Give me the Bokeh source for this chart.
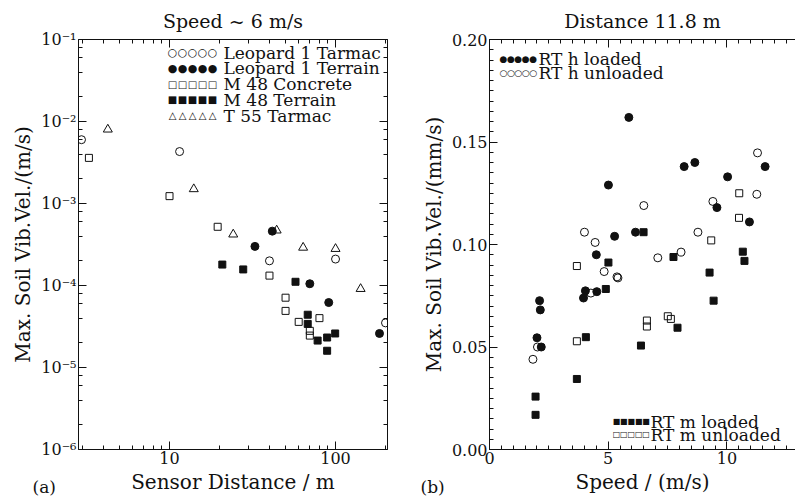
from bokeh.plotting import figure
from bokeh.models import (LogAxis, LinearAxis, LogTicker, FixedTicker, SingleIntervalTicker,
                          CustomJSTickFormatter, NumeralTickFormatter, Label, Range1d, Title)
from bokeh.layouts import row
from bokeh.embed import file_html
from bokeh.resources import INLINE

FONT = "DejaVu Serif"
MFONT = "DejaVu Sans"
INK = "#111111"

# ---------------- panel (a): Speed ~ 6 m/s ----------------
leo_tarmac_x = [2.95, 11.5, 40, 100, 200]
leo_tarmac_y = [6.0e-3, 4.3e-3, 2.0e-4, 2.1e-4, 3.5e-5]
leo_terrain_x = [32.7, 41.6, 70, 91, 184]
leo_terrain_y = [3.0e-4, 4.6e-4, 1.05e-4, 6.2e-5, 2.6e-5]
m48_concrete_x = [3.27, 10.0, 19.5, 40, 50, 50, 60, 70, 70, 80]
m48_concrete_y = [3.6e-3, 1.23e-3, 5.2e-4, 1.32e-4, 7.1e-5, 4.9e-5, 3.6e-5, 2.8e-5, 2.45e-5, 4.0e-5]
m48_terrain_x = [20.8, 27.8, 57.4, 68, 68, 78, 89, 89, 99.5]
m48_terrain_y = [1.8e-4, 1.57e-4, 1.11e-4, 4.4e-5, 3.4e-5, 2.13e-5, 2.32e-5, 1.6e-5, 2.6e-5]
t55_tarmac_x = [4.25, 14.0, 24.2, 44.2, 63.8, 100, 141.6]
t55_tarmac_y = [8.0e-3, 1.5e-3, 4.2e-4, 4.7e-4, 2.9e-4, 2.8e-4, 9.1e-5]

x_major_a = [10, 100]
x_minor_a = [3, 4, 5, 6, 7, 8, 9, 20, 30, 40, 50, 60, 70, 80, 90, 200]

legend_a = [("○", "11px", "Leopard 1 Tarmac"),
            ("●", "11px", "Leopard 1 Terrain"),
            ("□", "10px", "M 48 Concrete"),
            ("■", "10px", "M 48 Terrain"),
            ("△", "10px", "T 55 Tarmac")]

# ---------------- panel (b): Distance 11.8 m ----------------
rth_loaded_x = [5.87, 5.01, 5.27, 6.15, 8.20, 8.65, 10.03, 9.58, 11.61, 10.95,
                4.50, 4.04, 3.96, 4.52, 2.11, 2.14, 2.00, 2.18]
rth_loaded_y = [0.162, 0.129, 0.104, 0.106, 0.138, 0.140, 0.133, 0.118, 0.138, 0.111,
                0.095, 0.0774, 0.0739, 0.0770, 0.0726, 0.0681, 0.0545, 0.0500]
rth_unloaded_x = [11.29, 11.26, 9.41, 6.50, 4.00, 4.45, 8.78, 8.07, 7.09, 4.83,
                  5.37, 5.41, 4.27, 1.83, 2.02]
rth_unloaded_y = [0.1447, 0.1245, 0.121, 0.119, 0.106, 0.101, 0.106, 0.0963, 0.0935, 0.0868,
                  0.0842, 0.0837, 0.0763, 0.044, 0.050]
rtm_loaded_x = [6.49, 10.67, 5.01, 7.75, 10.74, 9.27, 9.44, 4.90, 4.06, 7.92,
                6.38, 3.68, 1.94, 1.94]
rtm_loaded_y = [0.106, 0.0965, 0.0912, 0.0939, 0.092, 0.0863, 0.0726, 0.0783, 0.0548, 0.0594,
                0.0507, 0.0344, 0.0258, 0.0169]
rtm_unloaded_x = [3.68, 3.68, 9.34, 10.52, 10.51, 6.63, 6.63, 7.51, 7.64]
rtm_unloaded_y = [0.0895, 0.0528, 0.102, 0.125, 0.113, 0.0629, 0.0600, 0.065, 0.0637]

legend_b_top = [("●", "9px", "RT h loaded"), ("○", "9px", "RT h unloaded")]
legend_b_bot = [("■", "8px", "RT m loaded"), ("□", "8px", "RT m unloaded")]

SUP = CustomJSTickFormatter(code="""
const e = Math.round(Math.log10(tick));
const m = {'-':'\u207b','0':'\u2070','1':'\u00b9','2':'\u00b2','3':'\u00b3','4':'\u2074',
           '5':'\u2075','6':'\u2076','7':'\u2077','8':'\u2078','9':'\u2079'};
return '10' + String(e).split('').map(c => m[c]).join('');
""")
EMPTY = CustomJSTickFormatter(code="return '';")


def style_axis(ax, label_size="16px"):
    ax.axis_line_color = INK
    ax.major_tick_line_color = INK
    ax.minor_tick_line_color = INK
    ax.major_tick_in = 8
    ax.major_tick_out = 0
    ax.minor_tick_in = 4
    ax.minor_tick_out = 0
    ax.major_label_standoff = 2
    ax.major_label_text_font = FONT
    ax.major_label_text_font_size = label_size
    ax.major_label_text_color = INK
    ax.axis_label_standoff = 3
    ax.axis_label_text_font = FONT
    ax.axis_label_text_font_size = "20px"
    ax.axis_label_text_font_style = "normal"
    ax.axis_label_text_color = INK


def style_fig(p, title):
    p.title.text = title
    p.title.align = "center"
    p.title.text_font = FONT
    p.title.text_font_size = "19px"
    p.title.text_font_style = "normal"
    p.title.text_color = INK
    p.title.standoff = 15
    p.outline_line_color = None
    p.grid.visible = False
    p.background_fill_color = "white"
    p.border_fill_color = "white"


def add_legend(p, items, x_mark, step, x_text, y_top, dy, tsize):
    for i, (m, msize, t) in enumerate(items):
        y = y_top - i * dy
        for k in range(5):
            p.add_layout(Label(x=x_mark + k * step, y=y, x_units="screen", y_units="screen",
                               text=m, text_font=MFONT, text_font_size=msize, text_color=INK,
                               text_align="center", text_baseline="middle"))
        p.add_layout(Label(x=x_text, y=y, x_units="screen", y_units="screen", text=t,
                           text_font=FONT, text_font_size=tsize, text_color=INK,
                           text_baseline="middle"))


def add_panel_tag(p, tag, offset):
    t = Title(text=tag, align="left", offset=offset, standoff=-40,
              text_font=FONT, text_font_size="17px", text_font_style="normal",
              text_color=INK, vertical_align="top")
    p.add_layout(t, "below")


# ---------------- figure (a) ----------------
p1 = figure(width=400, height=502, x_axis_type="log", y_axis_type="log",
            x_range=Range1d(2.83, 205.6), y_range=Range1d(1e-6, 1e-1),
            output_backend="svg", toolbar_location=None,
            min_border_left=78, min_border_right=13, min_border_top=39, min_border_bottom=53)
style_fig(p1, "Speed ~ 6 m/s")
p1.xaxis.axis_label = "Sensor Distance / m"
p1.yaxis.axis_label = "Max. Soil Vib.Vel./(m/s)"
p1.xaxis.ticker = FixedTicker(ticks=x_major_a, minor_ticks=x_minor_a)
p1.xaxis.formatter = NumeralTickFormatter(format="0")
p1.yaxis.formatter = SUP
p1.yaxis.ticker = LogTicker(desired_num_ticks=6)
for ax in p1.xaxis + p1.yaxis:
    style_axis(ax)
top1 = LogAxis(formatter=EMPTY, ticker=FixedTicker(ticks=x_major_a, minor_ticks=x_minor_a))
right1 = LogAxis(formatter=EMPTY, ticker=LogTicker(desired_num_ticks=6))
style_axis(top1)
style_axis(right1)
top1.major_label_standoff = 0
right1.major_label_standoff = 0
p1.add_layout(top1, "above")
p1.add_layout(right1, "right")

common_open = dict(fill_color=None, line_color=INK, line_width=1)
common_fill = dict(fill_color=INK, line_color=INK, line_width=1)
p1.scatter(leo_tarmac_x, leo_tarmac_y, marker="circle", size=8, **common_open)
p1.scatter(leo_terrain_x, leo_terrain_y, marker="circle", size=8, **common_fill)
p1.scatter(m48_concrete_x, m48_concrete_y, marker="square", size=7, **common_open)
p1.scatter(m48_terrain_x, m48_terrain_y, marker="square", size=7, **common_fill)
p1.scatter(t55_tarmac_x, t55_tarmac_y, marker="triangle", size=9, **common_open)

add_legend(p1, legend_a, 94, 10, 145, 397, 15.8, "17px")
add_panel_tag(p1, "(a)", -46)

# ---------------- figure (b) ----------------
p2 = figure(width=395, height=502,
            x_range=Range1d(0, 12.89), y_range=Range1d(0, 0.20),
            output_backend="svg", toolbar_location=None,
            min_border_left=89, min_border_right=0, min_border_top=39, min_border_bottom=53)
style_fig(p2, "Distance 11.8 m")
p2.xaxis.axis_label = "Speed / (m/s)"
p2.yaxis.axis_label = "Max. Soil Vib.Vel./(mm/s)"
p2.xaxis.ticker = SingleIntervalTicker(interval=5, num_minor_ticks=10)
p2.yaxis.ticker = SingleIntervalTicker(interval=0.05, num_minor_ticks=10)
p2.yaxis.formatter = NumeralTickFormatter(format="0.00")
for ax in p2.xaxis + p2.yaxis:
    style_axis(ax)
top2 = LinearAxis(formatter=EMPTY, ticker=SingleIntervalTicker(interval=5, num_minor_ticks=10))
style_axis(top2)
top2.major_label_standoff = 0
p2.add_layout(top2, "above")

p2.scatter(rth_loaded_x, rth_loaded_y, marker="circle", size=8, **common_fill)
p2.scatter(rth_unloaded_x, rth_unloaded_y, marker="circle", size=8, **common_open)
p2.scatter(rtm_loaded_x, rtm_loaded_y, marker="square", size=7, **common_fill)
p2.scatter(rtm_unloaded_x, rtm_unloaded_y, marker="square", size=7, **common_open)

add_legend(p2, legend_b_top, 14, 7.4, 49, 391, 14, "17px")
add_legend(p2, legend_b_bot, 127, 7.4, 161, 28, 13, "17px")
add_panel_tag(p2, "(b)", -69)

layout = row(p1, p2)
open("out.html", "w").write(file_html(layout, INLINE))
